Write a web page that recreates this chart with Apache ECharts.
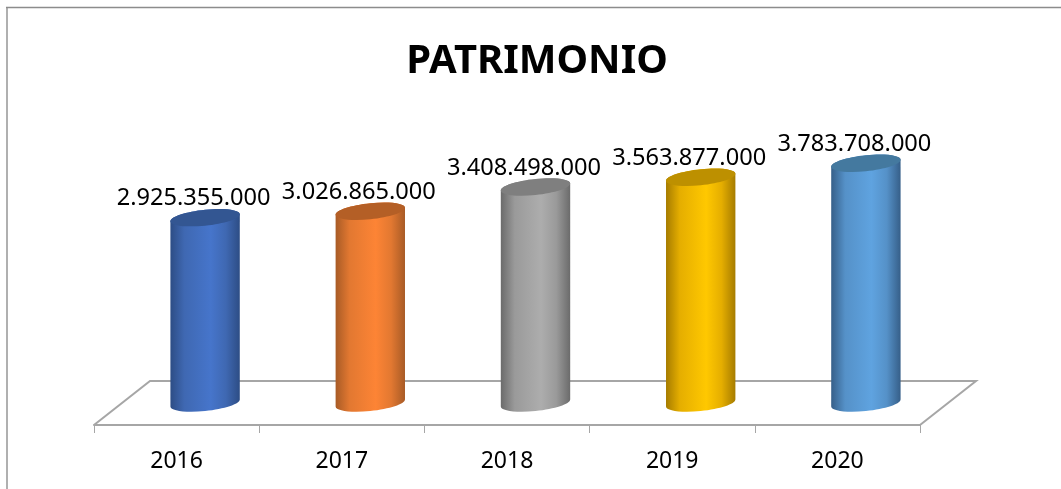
<!DOCTYPE html>
<html>
<head>
<meta charset="utf-8">
<style>
html, body { margin: 0; padding: 0; background: #fff; }
#main { width: 1061px; height: 489px; }
</style>
<script src="https://cdn.jsdelivr.net/npm/echarts@6/dist/echarts.min.js"></script>
</head>
<body>
<div id="main"></div>
<script>
var titleText = 'PATRIMONIO'
var years = ['2016', '2017', '2018', '2019', '2020']
var patrimonio = [2925355000, 3026865000, 3408498000, 3563877000, 3783708000]
var valueLabels = ['2.925.355.000', '3.026.865.000', '3.408.498.000', '3.563.877.000', '3.783.708.000']
// [edge, shoulder, middle, top face]
var barColors = [
    ['#2d4d85', '#3f68b2', '#4675cb', '#335692'],
    ['#a85b26', '#e27831', '#fd8435', '#b45f26'],
    ['#6b6b6b', '#9a9a9a', '#adadad', '#7f7f7f'],
    ['#a67c00', '#e5ae00', '#ffc800', '#bd9000'],
    ['#365f89', '#5591c8', '#5fa3e0', '#44799f']
]

var chart = echarts.init(document.getElementById('main'), null, { renderer: 'canvas' })

// floor of the 3d box, drawn behind the bars
function renderFloor(params, api) {
    var cs = params.coordSys
    var depthX = 56, depthY = 22
    var front = cs.y + cs.height + depthY
    var back = cs.y + cs.height - depthY
    var left = cs.x, right = cs.x + cs.width
    return {
        type: 'polyline',
        silent: true,
        shape: { points: [[left, front], [left + depthX, back], [right + depthX, back], [right, front]] },
        style: { fill: null, stroke: '#a6a6a6', lineWidth: 2 }
    }
}

// cylinder ends are sheared ellipses: left side lower, right side higher
function cylinderPaths(cx, topY, baseY, rx) {
    var ry = 8, s = 3.5, k = 0.5523
    var l = cx - rx, r = cx + rx
    function pt(x, y) { return x + ' ' + (y - s * (x - cx) / rx) }
    function frontHalf(y) {
        return 'C' + pt(l, y + ry * k) + ' ' + pt(cx - rx * k, y + ry) + ' ' + pt(cx, y + ry) +
            ' C' + pt(cx + rx * k, y + ry) + ' ' + pt(r, y + ry * k) + ' ' + pt(r, y)
    }
    function backHalf(y) {
        return 'C' + pt(r, y - ry * k) + ' ' + pt(cx + rx * k, y - ry) + ' ' + pt(cx, y - ry) +
            ' C' + pt(cx - rx * k, y - ry) + ' ' + pt(l, y - ry * k) + ' ' + pt(l, y)
    }
    return {
        body: 'M' + pt(l, topY) + ' L' + pt(l, baseY) + ' ' + frontHalf(baseY) +
            ' L' + pt(r, topY) + ' ' + backHalf(topY) + ' Z',
        top: 'M' + pt(l, topY) + ' ' + frontHalf(topY) + ' ' + backHalf(topY) + ' Z'
    }
}

function renderCylinder(params, api) {
    var i = api.value(0)
    var top = api.coord([i, api.value(1)])
    var base = api.coord([i, 0])
    var size = api.size([1, 0])
    var cx = top[0] + 28.5
    var rx = size[0] * 0.21
    var c = barColors[i]
    var p = cylinderPaths(cx, top[1], base[1], rx)
    return {
        type: 'group',
        children: [
            {
                type: 'path',
                shape: { pathData: p.body },
                style: {
                    fill: new echarts.graphic.LinearGradient(0, 0, 1, 0, [
                        { offset: 0, color: c[0] },
                        { offset: 0.2, color: c[1] },
                        { offset: 0.58, color: c[2] },
                        { offset: 0.8, color: c[1] },
                        { offset: 1, color: c[0] }
                    ])
                }
            },
            { type: 'path', shape: { pathData: p.top }, style: { fill: c[3] } },
            {
                type: 'text',
                style: {
                    x: cx - 11.5,
                    y: top[1] - 19,
                    text: valueLabels[i],
                    align: 'center',
                    verticalAlign: 'middle',
                    fill: '#000',
                    font: '23.6px "Noto Sans"'
                }
            }
        ]
    }
}

chart.setOption({
    animation: false,
    backgroundColor: '#fff',
    title: {
        text: titleText,
        left: 532,
        top: 37,
        textAlign: 'center',
        textStyle: { fontFamily: 'Noto Sans', fontWeight: 'bold', fontSize: 40, color: '#000' }
    },
    grid: { left: 94, right: 141, top: 147, bottom: 86 },
    xAxis: {
        type: 'category',
        data: years,
        offset: 22,
        axisLine: { show: true, onZero: false, lineStyle: { color: '#a6a6a6', width: 2 } },
        axisTick: { show: true, length: 8, lineStyle: { color: '#a6a6a6', width: 1 } },
        axisLabel: { color: '#000', fontFamily: 'Noto Sans', fontSize: 23, margin: 25 }
    },
    yAxis: {
        type: 'value',
        min: 0,
        max: 4040000000,
        show: false
    },
    graphic: [
        {
            type: 'line',
            silent: true,
            shape: { x1: 7, y1: 7, x2: 7, y2: 489 },
            style: { stroke: '#b0b0b0', lineWidth: 2 }
        },
        {
            type: 'line',
            silent: true,
            shape: { x1: 6, y1: 7.5, x2: 1061, y2: 7.5 },
            style: { stroke: '#8c8c8c', lineWidth: 1.5 }
        }
    ],
    series: [
        {
            type: 'custom',
            renderItem: renderFloor,
            data: [[0]],
            silent: true,
            z: 1,
            encode: { x: 0 }
        },
        {
            type: 'custom',
            renderItem: renderCylinder,
            data: patrimonio.map(function (v, i) { return [i, v] }),
            z: 2,
            encode: { x: 0, y: 1 }
        }
    ]
})
</script>
</body>
</html>
